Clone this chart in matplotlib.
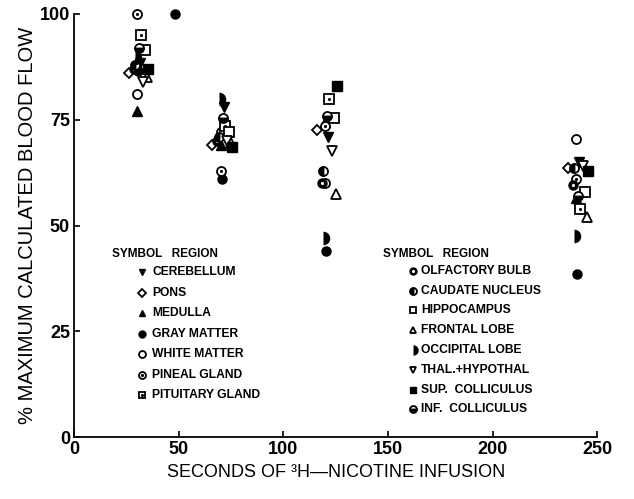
import numpy as np
import matplotlib
matplotlib.use("Agg")
import matplotlib.pyplot as plt

plt.rcParams['font.family'] = ['Liberation Sans', 'DejaVu Sans']

times = [30, 70, 120, 240]

# % maximum calculated blood flow at each time
cerebellum = [88.5, 78, 71, 65]
pons = [86, 69, 72.5, 63.5]
medulla = [77, 69, 74.5, 56.5]
gray_matter = [86.5, 61, 44, 38.5]
white_matter = [81, 72, 60, 70.5]
pineal = [100, 63, 73.5, 61]
pituitary = [95, 73.5, 80, 54]
olfactory = [87, 70, 60, 59.5]
caudate = [88, 71, 63, 63.5]
hippocampus = [91.5, 72, 75.5, 58]
frontal = [85, 69.5, 57.5, 52]
occipital = [89.5, 80, 47, 47.5]
thal_hypothal = [84, 70, 67.5, 64]
sup_colliculus = [87, 68.5, 83, 63]
inf_colliculus = [92, 75.5, 76, 57]

# extra gray matter point
gray_extra_t = [48]
gray_extra_v = [100]

left_names = ['CEREBELLUM', 'PONS', 'MEDULLA', 'GRAY MATTER', 'WHITE MATTER',
              'PINEAL GLAND', 'PITUITARY GLAND']
right_names = ['OLFACTORY BULB', 'CAUDATE NUCLEUS', 'HIPPOCAMPUS', 'FRONTAL LOBE',
               'OCCIPITAL LOBE', 'THAL.+HYPOTHAL', 'SUP.  COLLICULUS', 'INF.  COLLICULUS']

values = {
    'CEREBELLUM': cerebellum, 'PONS': pons, 'MEDULLA': medulla,
    'GRAY MATTER': gray_matter, 'WHITE MATTER': white_matter,
    'PINEAL GLAND': pineal, 'PITUITARY GLAND': pituitary,
    'OLFACTORY BULB': olfactory, 'CAUDATE NUCLEUS': caudate,
    'HIPPOCAMPUS': hippocampus, 'FRONTAL LOBE': frontal,
    'OCCIPITAL LOBE': occipital, 'THAL.+HYPOTHAL': thal_hypothal,
    'SUP.  COLLICULUS': sup_colliculus, 'INF.  COLLICULUS': inf_colliculus,
}

# marker style: (marker, fill, dot colour or None)
styles = {
    'CEREBELLUM': ('v', 'full', None),
    'PONS': ('D', 'none', None),
    'MEDULLA': ('^', 'full', None),
    'GRAY MATTER': ('o', 'full', None),
    'WHITE MATTER': ('o', 'none', None),
    'PINEAL GLAND': ('o', 'none', 'k'),
    'PITUITARY GLAND': ('s', 'none', 'k'),
    'OLFACTORY BULB': ('o', 'full', 'w'),
    'CAUDATE NUCLEUS': ('o', 'left', None),
    'HIPPOCAMPUS': ('s', 'none', None),
    'FRONTAL LOBE': ('^', 'none', None),
    'OCCIPITAL LOBE': ('o', 'right', None),
    'THAL.+HYPOTHAL': ('v', 'none', None),
    'SUP.  COLLICULUS': ('s', 'full', None),
    'INF.  COLLICULUS': ('o', 'bottom', None),
}

# small horizontal spread (seconds) so symbols don't sit on each other
spread = {
    'CEREBELLUM': 1.5, 'PONS': -4, 'MEDULLA': 0, 'GRAY MATTER': 0.5,
    'WHITE MATTER': 0, 'PINEAL GLAND': 0, 'PITUITARY GLAND': 2,
    'OLFACTORY BULB': -1.5, 'CAUDATE NUCLEUS': -1, 'HIPPOCAMPUS': 4,
    'FRONTAL LOBE': 5, 'OCCIPITAL LOBE': -1, 'THAL.+HYPOTHAL': 3,
    'SUP.  COLLICULUS': 5.5, 'INF.  COLLICULUS': 1,
}


def draw(ax, name, x, y, size=6.5, **kw):
    m, fill, dot = styles[name]
    ms = size * (0.8 if m == 'D' else 1.0)
    if fill == 'none':
        ax.plot(x, y, m, ms=ms, mfc='white', mec='black', mew=1.3, clip_on=False, **kw)
    elif fill == 'full':
        ax.plot(x, y, m, ms=ms, mfc='black', mec='black', mew=1.0, clip_on=False, **kw)
    elif fill == 'right':
        ax.plot(x, y, m, ms=ms * 1.5, fillstyle='right', mfc='black', mfcalt='none',
                mec='none', mew=0, clip_on=False, **kw)
    else:
        ax.plot(x, y, m, ms=ms, fillstyle=fill, mfc='black', mfcalt='white',
                mec='black', mew=1.3, clip_on=False, **kw)
    if dot is not None:
        ax.plot(x, y, '.', ms=2.5, color=dot, clip_on=False, **kw)


fig = plt.figure(figsize=(6.34, 4.99), dpi=100)
ax = fig.add_axes([0.117, 0.124, 0.825, 0.848])

for name in left_names + right_names:
    xs = np.array(times) + spread[name]
    draw(ax, name, xs, values[name])
draw(ax, 'GRAY MATTER', gray_extra_t, gray_extra_v)

ax.set_xlim(0, 250)
ax.set_ylim(0, 100)
ax.set_xticks([0, 50, 100, 150, 200, 250])
ax.set_yticks([0, 25, 50, 75, 100])
ax.spines['top'].set_visible(False)
ax.spines['right'].set_visible(False)
ax.spines['left'].set_linewidth(1.3)
ax.spines['bottom'].set_linewidth(1.3)
ax.tick_params(direction='in', length=4, width=1.2, labelsize=13, pad=3)
for lab in ax.get_xticklabels() + ax.get_yticklabels():
    lab.set_fontweight('bold')

ax.set_ylabel('% MAXIMUM CALCULATED BLOOD FLOW', fontsize=14.5, labelpad=2)
ax.set_xlabel('SECONDS OF \u00b3H\u2014NICOTINE INFUSION', fontsize=13, labelpad=4)

# symbol legends
tr = ax.transAxes


def legend_block(names, x_title, y_title, x_mark, y_first, row, x_gap):
    ax.text(x_title, y_title, 'SYMBOL   REGION', transform=tr, fontsize=8.5,
            fontweight='bold', va='center', ha='left')
    for i, name in enumerate(names):
        y = y_first - row * i
        draw(ax, name, [x_mark], [y], size=5, transform=tr)
        ax.text(x_mark + x_gap, y, name, transform=tr, fontsize=8.7,
                fontweight='bold', va='center', ha='left')


legend_block(left_names, 0.073, 0.433, 0.130, 0.390, 0.0485, 0.019)
legend_block(right_names, 0.591, 0.433, 0.648, 0.393, 0.0468, 0.015)

fig.savefig('out.png', dpi=100)
